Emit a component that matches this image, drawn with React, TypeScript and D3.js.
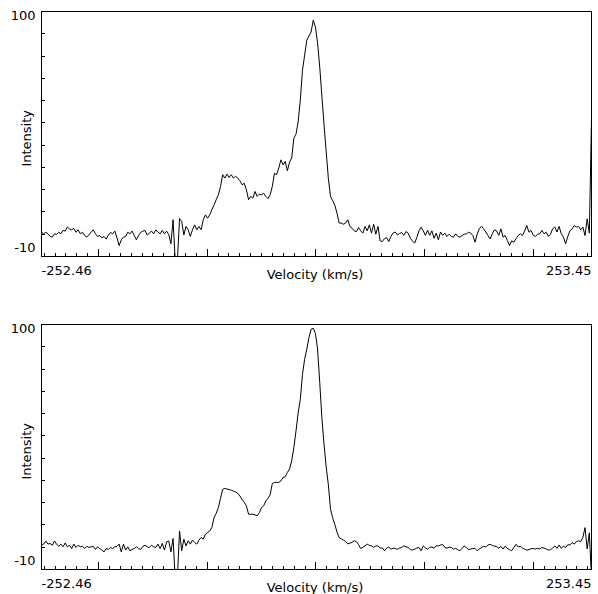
import React from 'react';
import * as d3 from 'd3';

const VEL_MIN = -252.46;
const VEL_MAX = 253.45;
const Y_MIN = -10;
const Y_MAX = 100;
const X_END_LABELS = ['-252.46', '253.45'];
const Y_END_LABELS = ['100', '-10'];
const X_TITLE = 'Velocity (km/s)';
const Y_TITLE = 'Intensity';

const TOP_INTENSITY = [
  0.9, 0.2, 0.9, 0.2, -1.0, -1.3, 0.2, -0.1, 0.9, 0.2,
  1.7, 1.4, 3.2, 2.4, 2.0, 2.6, 0.9, 2.0, 0.2, 0.9,
  -0.6, -1.3, -0.3, 0.9, 2.0, 0.2, -1.0, -0.6, -1.6, -1.0,
  -2.2, -0.4, 0.8, 0.2, 1.4, -1.6, -5.1, -2.5, -1.3, -1.0,
  0.9, 0.2, 1.4, -0.6, -2.5, -0.6, 0.8, 1.4, 1.7, -0.4,
  0.5, 1.4, 0.2, 2.0, 0.9, 0.2, 1.7, 0.2, 1.4, -0.1,
  -4.3, 6.5, -12, -12, 7.0, 5.7, -0.3, 3.5, 2.0, -1.0,
  2.0, 4.2, 2.0, 3.5, 2.0, 6.5, 8.7, 7.2, 8.7, 11.0,
  13.2, 15.5, 17.7, 21.4, 26.7, 25.2, 27.0, 25.5, 26.7, 25.2,
  26.0, 25.2, 24.0, 22.2, 22.9, 19.9, 15.5, 17.0, 16.2, 19.2,
  17.0, 18.0, 17.7, 18.4, 17.0, 16.0, 17.7, 21.4, 27.4, 26.7,
  29.7, 33.4, 31.2, 32.7, 28.5, 32.4, 34.2, 43.1, 44.9, 50.5,
  60.2, 73.6, 80.4, 87.1, 89.0, 90.8, 96.1, 93.0, 86.0, 75.0,
  62.0, 49.0, 37.0, 25.0, 17.0, 15.0, 13.0, 9.5, 5.0, 5.0,
  4.5, 5.0, 6.5, 3.5, 2.7, 1.5, 1.2, 3.0, 1.5, 0.5,
  3.5, 1.5, 4.2, 0.5, 4.5, 0.0, 3.5, -3.0, -3.3, -2.0,
  -1.5, -3.3, -1.0, 0.5, 1.0, -0.3, 0.3, 0.8, -0.5, 1.2,
  0.5, -1.8, -3.0, -4.0, -1.5, 1.5, 3.2, 1.5, -0.5, 1.8,
  -0.5, 1.5, -1.8, 0.5, -2.5, 1.0, -0.5, 0.5, -1.0, 0.0,
  -1.0, -1.3, 0.2, -1.0, -1.3, -0.6, 0.0, 0.2, 0.9, 0.5,
  -0.6, -3.6, 0.0, 2.5, 3.6, 2.4, 1.0, -0.6, -2.1, 0.2,
  2.0, 1.5, -0.5, 2.4, -1.3, -0.6, -2.8, -5.1, -3.0, -3.6,
  -2.0, -0.6, 0.2, -0.6, 1.5, 3.9, 0.9, 1.7, -0.5, -1.0,
  0.0, 0.2, 1.7, 0.2, 0.9, -1.0, 0.0, 2.5, 3.2, 1.0,
  3.5, 0.2, -1.3, -4.3, -1.0, 1.5, 2.4, 3.9, 3.2, 3.5,
  2.0, 3.2, -0.6, 6.9, 0.5, 52.0,
];

const BOTTOM_INTENSITY = [
  0.9, 1.4, 2.8, 1.4, 1.7, 0.9, 2.8, 1.4, 0.4, 1.4,
  0.2, 1.9, 0.2, 0.9, -0.6, 1.4, -0.1, 0.9, 0.2, 0.4,
  -0.6, 0.4, -0.1, 0.2, 0.4, -1.0, 0.2, -0.6, -1.3, -2.1,
  -0.6, -1.0, -0.1, -0.6, 0.2, 0.4, 1.4, -2.1, 1.4, -1.3,
  0.2, -1.6, -1.0, -0.6, 0.2, -0.6, -1.0, 0.4, 0.9, 0.2,
  -0.1, 0.9, 0.2, -0.1, 1.4, -0.6, 1.7, -1.3, 2.4, 2.8,
  -2.1, 3.9, -14, -14, 7.3, -1.6, 3.6, 0.6, 2.9, 1.4,
  3.2, 2.1, 1.4, 3.2, 4.4, 3.6, 5.9, 6.6, 7.3, 8.9,
  13.3, 15.2, 17.8, 22.0, 26.0, 26.4, 26.1, 25.9, 25.6, 25.2,
  24.8, 24.2, 23.0, 21.4, 20.2, 18.6, 14.8, 14.8, 14.8, 14.5,
  14.1, 15.5, 17.8, 18.6, 20.8, 22.0, 23.5, 28.6, 29.1, 29.1,
  29.1, 29.8, 31.3, 31.6, 33.6, 35.1, 38.8, 44.8, 52.2, 60.4,
  66.4, 77.6, 84.4, 88.9, 94.1, 97.9, 98.3, 96.0, 89.0, 74.0,
  58.0, 46.0, 36.0, 28.0, 17.0, 13.2, 10.2, 6.8, 4.3, 3.7,
  3.2, 2.6, 1.5, 1.8, 2.2, 2.9, 2.5, 1.2, -0.6, 0.0,
  0.6, 1.4, 0.8, 0.6, -0.1, 0.6, 0.6, -0.4, -0.3, -1.6,
  -0.4, 0.1, -0.9, -0.4, -0.6, -0.9, -0.4, -0.1, 0.6, 0.2,
  -0.1, -1.0, -1.3, -0.9, -0.4, -0.1, -1.6, 0.6, -0.3, -0.9,
  0.0, 0.1, -0.4, 0.6, 0.6, 1.0, 1.2, -0.1, -0.4, 0.0,
  -0.1, -0.9, -0.5, -1.1, -1.6, -0.5, 0.6, -0.2, -1.1, -0.8,
  -0.6, -0.5, -1.6, -0.8, -0.2, 0.4, 0.1, 1.0, 1.3, 0.8,
  0.5, 0.3, -0.4, 0.4, -0.8, 0.5, -0.5, -1.1, -1.6, -0.1,
  1.3, 0.1, 0.4, -0.4, -0.8, -1.3, -1.1, -0.6, -0.6, -0.8,
  -0.5, -0.8, -0.1, -0.4, -0.8, -1.3, -1.1, -0.4, 0.6, -0.5,
  1.0, -0.5, 0.5, -0.1, 1.1, 1.0, 2.1, 1.4, 2.5, 2.9,
  2.5, 4.4, 8.8, -0.8, 6.5, -14,
];

const W = 598;
const H = 594;
const LEFT = 41.5;
const RIGHT = 591.5;
const PLOT_H = 245;
const FONT = '"DejaVu Sans", Verdana, sans-serif';

type PanelProps = { top: number; data: number[]; id: string };

function Panel({ top, data, id }: PanelProps) {
  const x = d3.scaleLinear().domain([VEL_MIN, VEL_MAX]).range([LEFT, RIGHT]);
  const y = d3.scaleLinear().domain([Y_MIN, Y_MAX]).range([top + 0.5 + PLOT_H, top + 0.5]);
  const n = data.length;
  const step = (VEL_MAX - VEL_MIN) / (n - 1);
  const line = d3
    .line<number>()
    .x((_, i) => x(VEL_MIN + i * step))
    .y((d) => y(d));
  const minorTicks = d3.range(-25, 26).map((k) => k * 10);
  const yTicks = d3.range(-1, 11).map((k) => k * 10);
  const bottom = y(Y_MIN);
  return (
    <g>
      <defs>
        <clipPath id={id}>
          <rect x={LEFT} y={top} width={RIGHT - LEFT + 1} height={PLOT_H + 1} />
        </clipPath>
      </defs>
      <path
        d={line(data) || ''}
        fill="none"
        stroke="#000"
        strokeWidth={1}
        clipPath={`url(#${id})`}
      />
      <rect
        x={LEFT}
        y={top + 0.5}
        width={RIGHT - LEFT}
        height={PLOT_H}
        fill="none"
        stroke="#000"
        strokeWidth={1}
        shapeRendering="crispEdges"
      />
      {yTicks.map((t) => (
        <line
          key={'y' + t}
          x1={LEFT}
          x2={LEFT + 3}
          y1={y(t)}
          y2={y(t)}
          stroke="#000"
          shapeRendering="crispEdges"
        />
      ))}
      {minorTicks.map((t) => (
        <line
          key={'x' + t}
          x1={x(t)}
          x2={x(t)}
          y1={bottom}
          y2={bottom - (t % 100 === 0 ? 8 : 3.5)}
          stroke="#000"
          shapeRendering="crispEdges"
        />
      ))}
      <g fontFamily={FONT} fontSize={13} fill="#000">
        <text x={35.5} y={top + 8.5} textAnchor="end">{Y_END_LABELS[0]}</text>
        <text x={35.5} y={top + 241.3} textAnchor="end">{Y_END_LABELS[1]}</text>
        <text
          transform={`translate(30.5,${top + 127.3}) rotate(-90)`}
          textAnchor="middle"
        >
          {Y_TITLE}
        </text>
        <text x={LEFT} y={top + 264} textAnchor="start">{X_END_LABELS[0]}</text>
        <text x={RIGHT} y={top + 264} textAnchor="end">{X_END_LABELS[1]}</text>
        <text x={315} y={top + 268} textAnchor="middle">{X_TITLE}</text>
      </g>
    </g>
  );
}

export default function App() {
  return (
    <svg
      width={W}
      height={H}
      viewBox={`0 0 ${W} ${H}`}
      style={{ position: 'absolute', left: 0, top: 0, background: '#fff' }}
    >
      <rect x={0} y={0} width={W} height={H} fill="#fff" />
      <Panel top={11} data={TOP_INTENSITY} id="clipTop" />
      <Panel top={324} data={BOTTOM_INTENSITY} id="clipBottom" />
    </svg>
  );
}
